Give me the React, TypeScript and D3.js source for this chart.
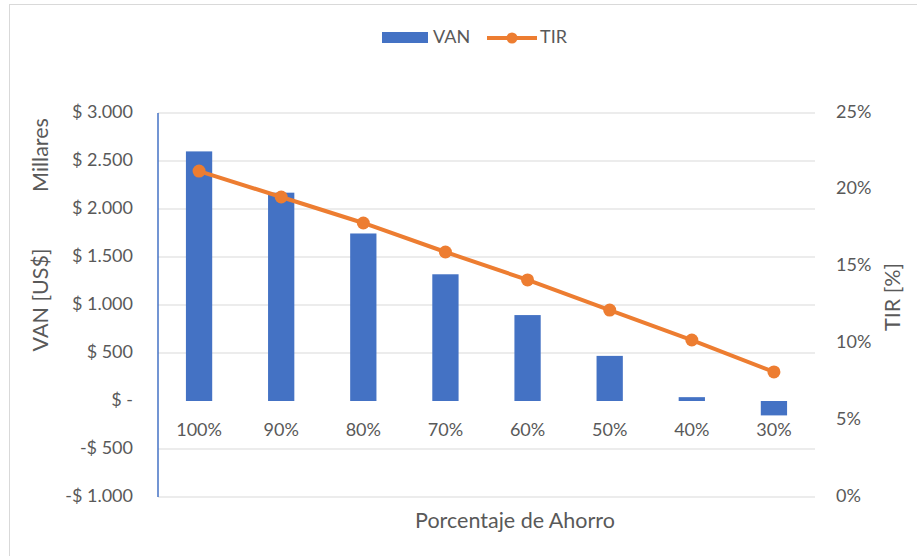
import React from "react";
import * as d3 from "d3";

const categories = ["100%", "90%", "80%", "70%", "60%", "50%", "40%", "30%"];
const vanValues = [2600, 2170, 1745, 1320, 895, 470, 40, -150];
const tirValues = [0.2122, 0.1953, 0.1784, 0.1595, 0.1413, 0.1217, 0.1022, 0.0814];
const leftTicks = [-1000, -500, 0, 500, 1000, 1500, 2000, 2500, 3000];
const rightTicks = [0, 0.05, 0.1, 0.15, 0.2, 0.25];

const W = 917;
const H = 556;
const X0 = 158;
const X1 = 815;
const YT = 113;
const YB = 497;
const FONT = "Lato, 'Open Sans', sans-serif";
const TEXT = "#595959";
const BLUE = "#4472C4";
const ORANGE = "#ED7D31";
const TITLE_SIZE = 21.5;

function fmtVan(v: number): string {
  if (v === 0) return "$ -";
  const s = d3.format(",")(Math.abs(v)).replace(/,/g, ".");
  return (v < 0 ? "-" : "") + "$ " + s;
}

export default function App() {
  const x = d3
    .scaleBand<string>()
    .domain(categories)
    .range([X0, X1])
    .paddingInner(0.68)
    .paddingOuter(0.34);
  const y = d3.scaleLinear().domain([-1000, 3000]).range([YB, YT]);
  const y2 = d3.scaleLinear().domain([0, 0.25]).range([YB, YT]);
  const cx = (c: string) => (x(c) as number) + x.bandwidth() / 2;
  const line = d3
    .line<number>()
    .x((_, i) => cx(categories[i]))
    .y((d) => y2(d));

  return (
    <svg
      width={W}
      height={H}
      style={{ position: "absolute", left: 0, top: 0, background: "#fff" }}
      fontFamily={FONT}
    >
      <rect x={9.5} y={4.5} width={930} height={570} fill="#fff" stroke="#D9D9D9" strokeWidth={1} />
      {leftTicks
        .filter((t) => t !== 0)
        .map((t) => (
          <line key={"g" + t} x1={X0} x2={X1} y1={y(t)} y2={y(t)} stroke="#D9D9D9" strokeWidth={1} />
        ))}
      <line x1={X0} x2={X0} y1={YT} y2={YB} stroke={BLUE} strokeWidth={1.5} />
      {leftTicks.map((t) => (
        <text
          key={"l" + t}
          x={133}
          y={y(t)}
          textAnchor="end"
          dominantBaseline="middle"
          fontSize={18}
          fill={TEXT}
        >
          {fmtVan(t)}
        </text>
      ))}
      {rightTicks.map((t) => (
        <text
          key={"r" + t}
          x={836}
          y={y2(t)}
          textAnchor="start"
          dominantBaseline="middle"
          fontSize={18}
          fill={TEXT}
        >
          {Math.round(t * 100) + "%"}
        </text>
      ))}
      {categories.map((c, i) => {
        const v = vanValues[i];
        return (
          <rect
            key={"b" + c}
            x={x(c)}
            width={x.bandwidth()}
            y={Math.min(y(v), y(0))}
            height={Math.abs(y(v) - y(0))}
            fill={BLUE}
          />
        );
      })}
      {categories.map((c) => (
        <text key={"c" + c} x={cx(c)} y={431} textAnchor="middle" dominantBaseline="middle" fontSize={18} fill={TEXT}>
          {c}
        </text>
      ))}
      <path d={line(tirValues) || ""} fill="none" stroke={ORANGE} strokeWidth={4} strokeLinejoin="round" />
      {tirValues.map((v, i) => (
        <circle key={"p" + i} cx={cx(categories[i])} cy={y2(v)} r={6.5} fill={ORANGE} />
      ))}
      <text x={515} y={523} textAnchor="middle" dominantBaseline="middle" fontSize={TITLE_SIZE} fill={TEXT}>
        Porcentaje de Ahorro
      </text>
      <text
        transform="translate(43,155) rotate(-90)"
        textAnchor="middle"
        dominantBaseline="middle"
        fontSize={TITLE_SIZE}
        fill={TEXT}
      >
        Millares
      </text>
      <text
        transform="translate(43,300) rotate(-90)"
        textAnchor="middle"
        dominantBaseline="middle"
        fontSize={TITLE_SIZE}
        fill={TEXT}
      >
        VAN [US$]
      </text>
      <text
        transform="translate(895,297) rotate(-90)"
        textAnchor="middle"
        dominantBaseline="middle"
        fontSize={TITLE_SIZE}
        fill={TEXT}
      >
        TIR [%]
      </text>
      <rect x={382} y={32} width={46} height={11} fill={BLUE} />
      <text x={433} y={38} dominantBaseline="middle" fontSize={18} fill={TEXT}>
        VAN
      </text>
      <line x1={487} x2={537} y1={38} y2={38} stroke={ORANGE} strokeWidth={4} />
      <circle cx={512} cy={38} r={5.5} fill={ORANGE} />
      <text x={540} y={38} dominantBaseline="middle" fontSize={18} fill={TEXT}>
        TIR
      </text>
    </svg>
  );
}
